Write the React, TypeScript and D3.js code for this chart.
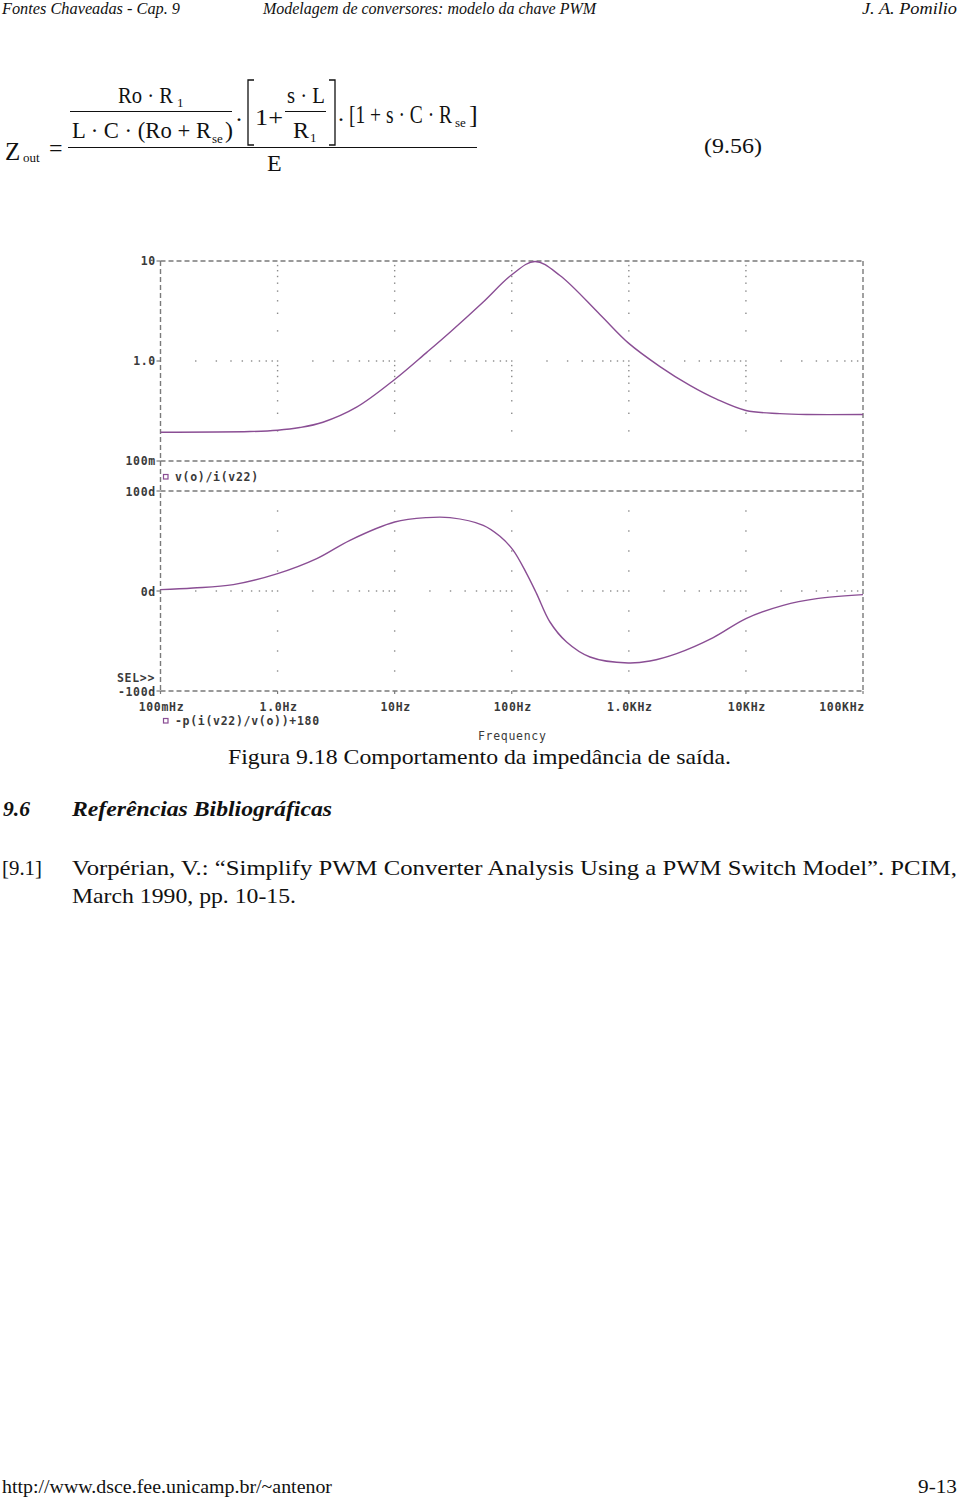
import React from "react";
import * as d3 from "d3";

// ---- data
const freqTicks = [0.1, 1, 10, 100, 1000, 10000, 100000];
const freqLabels = ["100mHz", "1.0Hz", "10Hz", "100Hz", "1.0KHz", "10KHz", "100KHz"];

const magFreq = [0.1, 0.581, 1.0, 1.55, 2.44, 4.73, 10, 18.8, 29.7, 56.8, 100, 158, 258, 566, 1000, 1845, 3325, 5620, 10000, 19500, 33000, 100000];
const magValue = [0.194, 0.197, 0.203, 0.216, 0.244, 0.345, 0.653, 1.22, 1.94, 3.87, 7.28, 9.9, 7.16, 2.92, 1.5, 0.88, 0.57, 0.415, 0.32, 0.298, 0.292, 0.292];

const phaseFreq = [0.1, 0.19, 0.419, 1.0, 2.16, 4.15, 10, 18.8, 29.7, 57.1, 79.3, 103, 134, 163, 212, 294, 466, 988, 1514, 2560, 5260, 10000, 20800, 40200, 100000];
const phaseValue = [1.4, 3, 6.4, 17.4, 32.4, 50.7, 69, 73.4, 73.4, 65.7, 54.7, 40.7, 17.4, -2.6, -31, -51, -66, -72, -70, -62.6, -46.6, -27.6, -14.3, -7.6, -3.6];

const magTicks = [10, 1, 0.1];
const magTickLabels = ["10", "1.0", "100m"];
const phaseTicks = [100, 0, -100];
const phaseTickLabels = ["100d", "0d", "-100d"];

const legendMag = "v(o)/i(v22)";
const legendPhase = "-p(i(v22)/v(o))+180";

// ---- geometry
const X0 = 160.5;
const X1 = 863;
const magTop = 261;
const magBot = 461;
const phTop = 491;
const phBot = 691;

const CURVE = "#8a4e94";
const FRAME = "#7a7a7a";
const DOT = "#8a8a8a";
const LABEL = "#3a3a3a";
const mono = "'DejaVu Sans Mono', monospace";
const serif = "'Liberation Serif', 'Times New Roman', serif";

const x = d3.scaleLog().domain([0.1, 100000]).range([X0, X1]);
const yMag = d3.scaleLog().domain([0.1, 10]).range([magBot, magTop]);
const yPh = d3.scaleLinear().domain([-100, 100]).range([phBot, phTop]);

const lbl = {
  fontFamily: mono,
  fontSize: 11.5,
  fontWeight: 700 as const,
  fill: LABEL,
  letterSpacing: "0.7px",
};

function Chart() {
  const magLine = d3
    .line<number>()
    .x((_, i) => x(magFreq[i]))
    .y((d) => yMag(d))
    .curve(d3.curveCatmullRom.alpha(0.5));
  const phLine = d3
    .line<number>()
    .x((_, i) => x(phaseFreq[i]))
    .y((d) => yPh(d))
    .curve(d3.curveCatmullRom.alpha(0.5));

  // log sub-divisions of the x axis (2..9 of each decade)
  const xMinor: number[] = [];
  for (let k = 0; k < freqTicks.length - 1; k++) {
    for (let m = 2; m <= 9; m++) xMinor.push(freqTicks[k] * m);
  }
  // log sub-divisions of the magnitude axis (everything except the borders)
  const magMinor: number[] = [];
  [0.1, 1].forEach((dec) => {
    for (let m = 1; m <= 9; m++) if (!(dec === 0.1 && m === 1)) magMinor.push(dec * m);
  });
  const phMinor = d3.range(-80, 100, 20);

  const dots: JSX.Element[] = [];
  // horizontal dotted grid at 1.0 and 0d
  xMinor.forEach((f, i) => {
    dots.push(<rect key={`hm${i}`} x={x(f) - 0.7} y={yMag(1) - 0.7} width={1.4} height={1.4} fill={DOT} />);
    dots.push(<rect key={`hp${i}`} x={x(f) - 0.7} y={yPh(0) - 0.7} width={1.4} height={1.4} fill={DOT} />);
  });
  // vertical dotted grid at decades
  freqTicks.slice(1, -1).forEach((f, i) => {
    magMinor.forEach((v, j) =>
      dots.push(<rect key={`vm${i}-${j}`} x={x(f) - 0.7} y={yMag(v) - 0.7} width={1.4} height={1.4} fill={DOT} />)
    );
    phMinor.forEach((v, j) =>
      dots.push(<rect key={`vp${i}-${j}`} x={x(f) - 0.7} y={yPh(v) - 0.7} width={1.4} height={1.4} fill={DOT} />)
    );
  });

  const dash = { stroke: FRAME, strokeWidth: 1.4, strokeDasharray: "5,3", fill: "none" };

  return (
    <g>
      {dots}
      {/* frames */}
      <line x1={X0} x2={X1} y1={magTop} y2={magTop} {...dash} />
      <line x1={X0} x2={X1} y1={magBot} y2={magBot} {...dash} />
      <line x1={X0} x2={X1} y1={phTop} y2={phTop} {...dash} />
      <line x1={X0} x2={X1} y1={phBot} y2={phBot} {...dash} />
      <line x1={X0} x2={X0} y1={magTop} y2={phBot} {...dash} />
      <line x1={X1} x2={X1} y1={magTop} y2={phBot} {...dash} />

      {/* y ticks */}
      {magTicks.map((v, i) => (
        <g key={`mt${i}`}>
          <line x1={X0 - 4} x2={X0} y1={yMag(v)} y2={yMag(v)} stroke={FRAME} strokeWidth={1.2} />
          <text x={156} y={yMag(v) + 4} textAnchor="end" {...lbl}>{magTickLabels[i]}</text>
        </g>
      ))}
      {phaseTicks.map((v, i) => (
        <g key={`pt${i}`}>
          <line x1={X0 - 4} x2={X0} y1={yPh(v)} y2={yPh(v)} stroke={FRAME} strokeWidth={1.2} />
          <text x={156} y={yPh(v) + 5} textAnchor="end" {...lbl}>{phaseTickLabels[i]}</text>
        </g>
      ))}
      <text x={117} y={682} {...lbl}>SEL&gt;&gt;</text>

      {/* x ticks */}
      {freqTicks.map((f, i) => {
        const last = i === freqTicks.length - 1;
        return (
          <g key={`xt${i}`}>
            <line x1={x(f)} x2={x(f)} y1={phBot} y2={phBot + 3} stroke={FRAME} strokeWidth={1.2} />
            <text
              x={last ? x(f) + 2 : x(f) + 1}
              y={711}
              textAnchor={last ? "end" : "middle"}
              {...lbl}
            >
              {freqLabels[i]}
            </text>
          </g>
        );
      })}
      <text x={478} y={740} {...lbl} fontWeight={400}>Frequency</text>

      {/* legends */}
      <rect x={163.5} y={474.5} width={4.5} height={4.5} fill="none" stroke={CURVE} strokeWidth={1.2} />
      <text x={175} y={481} {...lbl}>{legendMag}</text>
      <rect x={163.5} y={718.5} width={4.5} height={4.5} fill="none" stroke={CURVE} strokeWidth={1.2} />
      <text x={175} y={725} {...lbl}>{legendPhase}</text>

      {/* traces */}
      <path d={magLine(magValue) ?? ""} fill="none" stroke={CURVE} strokeWidth={1.4} />
      <path d={phLine(phaseValue) ?? ""} fill="none" stroke={CURVE} strokeWidth={1.4} />
    </g>
  );
}

function Equation() {
  const t = { fontFamily: serif, fill: "#111" };
  const big = { ...t, fontSize: 24 };
  const sub = { ...t, fontSize: 13 };
  return (
    <g>
      <text x={5} y={160} {...t} fontSize={25}>Z</text>
      <text x={23} y={162} {...sub}>out</text>
      <text x={49} y={156} {...big}>=</text>

      <text x={118} y={103} {...big} textLength={55} lengthAdjust="spacingAndGlyphs">Ro · R</text>
      <text x={177} y={107} {...sub}>1</text>
      <line x1={70} x2={232} y1={111.5} y2={111.5} stroke="#111" strokeWidth={1} />
      <text x={72} y={138} {...big} textLength={139} lengthAdjust="spacingAndGlyphs">L · C · (Ro + R</text>
      <text x={212} y={143} {...sub}>se</text>
      <text x={225} y={138} {...big}>)</text>
      <text x={235} y={127} {...big}>·</text>

      <path d="M254,80 H248 V145 H254" fill="none" stroke="#111" strokeWidth={1.3} />
      <text x={255} y={125} {...big} textLength={28} lengthAdjust="spacingAndGlyphs">1+</text>
      <text x={287} y={103} {...big} textLength={38} lengthAdjust="spacingAndGlyphs">s · L</text>
      <line x1={285} x2={326} y1={111.5} y2={111.5} stroke="#111" strokeWidth={1} />
      <text x={293} y={138} {...big}>R</text>
      <text x={310} y={142} {...sub}>1</text>
      <path d="M329,80 H335 V145 H329" fill="none" stroke="#111" strokeWidth={1.3} />
      <text x={337} y={127} {...big}>·</text>

      <text x={349} y={123} {...big} fontSize={26} textLength={103} lengthAdjust="spacingAndGlyphs">[1 + s · C · R</text>
      <text x={455} y={127} {...sub}>se</text>
      <text x={469} y={123} {...big} fontSize={26}>]</text>

      <line x1={68} x2={477} y1={147.5} y2={147.5} stroke="#111" strokeWidth={1} />
      <text x={267} y={171} {...big}>E</text>

      <text x={704} y={153} {...t} fontSize={21} textLength={58} lengthAdjust="spacingAndGlyphs">(9.56)</text>
    </g>
  );
}

export default function App() {
  const body = { fontFamily: serif, fill: "#111", fontSize: 21 };
  const head = { fontFamily: serif, fill: "#111", fontSize: 16, fontStyle: "italic" as const };
  return (
    <svg
      width={960}
      height={1501}
      viewBox="0 0 960 1501"
      style={{ position: "absolute", left: 0, top: 0, background: "#fff" }}
    >
      <rect width={960} height={1501} fill="#fff" />
      {/* running header */}
      <text x={2} y={14} {...head} textLength={178} lengthAdjust="spacingAndGlyphs">Fontes Chaveadas - Cap. 9</text>
      <text x={263} y={14} {...head} textLength={333} lengthAdjust="spacingAndGlyphs">Modelagem de conversores: modelo da chave PWM</text>
      <text x={862} y={14} {...head} textLength={95} lengthAdjust="spacingAndGlyphs">J. A. Pomilio</text>

      <Equation />
      <Chart />

      <text x={228} y={764} {...body} textLength={503} lengthAdjust="spacingAndGlyphs">Figura 9.18 Comportamento da impedância de saída.</text>

      <text x={3} y={816} {...body} fontWeight={700} fontStyle="italic" textLength={27} lengthAdjust="spacingAndGlyphs">9.6</text>
      <text x={72} y={816} {...body} fontWeight={700} fontStyle="italic" textLength={260} lengthAdjust="spacingAndGlyphs">Referências Bibliográficas</text>

      <text x={2} y={875} {...body} textLength={40} lengthAdjust="spacingAndGlyphs">[9.1]</text>
      <text x={72} y={875} {...body} textLength={885} lengthAdjust="spacingAndGlyphs">Vorpérian, V.: “Simplify PWM Converter Analysis Using a PWM Switch Model”. PCIM,</text>
      <text x={72} y={903} {...body} textLength={224} lengthAdjust="spacingAndGlyphs">March 1990, pp. 10-15.</text>

      {/* footer */}
      <text x={2} y={1493} {...body} fontSize={19} textLength={330} lengthAdjust="spacingAndGlyphs">http://www.dsce.fee.unicamp.br/~antenor</text>
      <text x={918} y={1493} {...body} fontSize={19} textLength={39} lengthAdjust="spacingAndGlyphs">9-13</text>
    </svg>
  );
}
